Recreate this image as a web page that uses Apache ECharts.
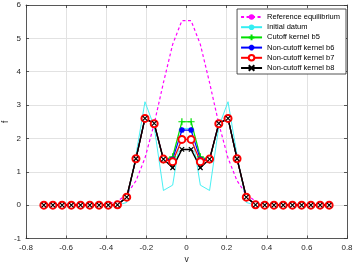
<!DOCTYPE html>
<html>
<head>
<meta charset="utf-8">
<script src="https://cdn.jsdelivr.net/npm/echarts@6/dist/echarts.min.js"></script>
<style>
html,body{margin:0;padding:0;background:#fff;}
#chart{width:354px;height:266px;}
</style>
</head>
<body>
<div id="chart"></div>
<script>
// grid of velocities (32 points)
var vValues = [-0.711,-0.666,-0.620,-0.574,-0.528,-0.482,-0.436,-0.390,-0.344,-0.298,-0.252,-0.207,-0.161,-0.115,-0.069,-0.023,
               0.023,0.069,0.115,0.161,0.207,0.252,0.298,0.344,0.390,0.436,0.482,0.528,0.574,0.620,0.666,0.711];
var refEquilibrium = [0,0,0,0,0,0,0.01,0.04,0.12,0.32,0.73,1.41,2.44,3.67,4.82,5.53,
                      5.53,4.82,3.67,2.44,1.41,0.73,0.32,0.12,0.04,0.01,0,0,0,0,0,0];
var initialDatum = [0,0,0,0,0,0,0,0,0,0.08,1.5,3.1,2.35,0.44,0.6,2.3,
                    2.3,0.6,0.44,2.35,3.1,1.5,0.08,0,0,0,0,0,0,0,0,0];
var cutoffB5 = [0,0,0,0,0,0,0,0,0.01,0.24,1.39,2.6,2.43,1.35,1.45,2.5,
                2.5,1.45,1.35,2.43,2.6,1.39,0.24,0.01,0,0,0,0,0,0,0,0];
var nonCutoffB6 = [0,0,0,0,0,0,0,0,0.01,0.24,1.39,2.6,2.44,1.37,1.37,2.25,
                   2.25,1.37,1.37,2.44,2.6,1.39,0.24,0.01,0,0,0,0,0,0,0,0];
var nonCutoffB7 = [0,0,0,0,0,0,0,0,0.01,0.24,1.39,2.6,2.44,1.38,1.3,1.97,
                   1.97,1.3,1.38,2.44,2.6,1.39,0.24,0.01,0,0,0,0,0,0,0,0];
var nonCutoffB8 = [0,0,0,0,0,0,0,0,0.01,0.24,1.39,2.6,2.45,1.38,1.12,1.67,
                   1.67,1.12,1.38,2.45,2.6,1.39,0.24,0.01,0,0,0,0,0,0,0,0];
var xTicks = [-0.8,-0.6,-0.4,-0.2,0,0.2,0.4,0.6,0.8];
var yTicks = [-1,0,1,2,3,4,5,6];
var seriesNames = ['Reference equilibrium','Initial datum','Cutoff kernel b5','Non-cutoff kernel b6','Non-cutoff kernel b7','Non-cutoff kernel b8'];

function pairs(ys){ return vValues.map(function(v,i){ return [v, ys[i]]; }); }

var FONT = 'Liberation Sans, Arial, sans-serif';
var AX = '#333333';
var GRIDC = '#e2e2e2';
var plus = 'path://M5,0L5,10M0,5L10,5';
var cross = 'path://M0,0L10,10M10,0L0,10';
var star = 'path://M5,0L5,10M0,5L10,5M1.5,1.5L8.5,8.5M8.5,1.5L1.5,8.5';

var chart = echarts.init(document.getElementById('chart'), null, {renderer:'canvas'});
var baseX = {type:'value', min:xTicks[0], max:xTicks[xTicks.length-1], interval:0.2};
var baseY = {type:'value', min:yTicks[0], max:yTicks[yTicks.length-1], interval:1};
chart.setOption({
  animation:false,
  backgroundColor:'#fff',
  grid:{left:26, right:7, top:5, bottom:27.5, containLabel:false, outerBoundsMode:'none'},
  legend:{
    data:seriesNames, orient:'vertical', right:8, top:9,
    itemWidth:21, itemHeight:7, itemGap:2.2,
    padding:[4,6,2,3],
    borderColor:'#262626', borderWidth:0.8, backgroundColor:'#fff',
    textStyle:{fontFamily:FONT, fontSize:7.5, color:'#000', lineHeight:8}
  },
  xAxis:[
    Object.assign({}, baseX, {
      position:'bottom', name:'v', nameLocation:'middle', nameGap:17, nameMoveOverlap:false,
      nameTextStyle:{fontFamily:FONT, fontSize:8.5, color:'#262626'},
      axisLine:{onZero:false, lineStyle:{color:AX, width:0.8}},
      axisTick:{inside:true, length:3, lineStyle:{color:AX, width:0.8}},
      axisLabel:{fontFamily:FONT, fontSize:8, color:'#262626', margin:5,
        formatter:function(v){ return String(Math.round(v*10)/10); }},
      splitLine:{show:true, lineStyle:{color:GRIDC, width:1}}
    }),
    Object.assign({}, baseX, {
      position:'top',
      axisLine:{onZero:false, lineStyle:{color:AX, width:0.8}},
      axisTick:{inside:true, length:3, lineStyle:{color:AX, width:0.8}},
      axisLabel:{show:false}, splitLine:{show:false}
    })
  ],
  yAxis:[
    Object.assign({}, baseY, {
      position:'left', name:'f', nameLocation:'middle', nameGap:16, nameMoveOverlap:false,
      nameTextStyle:{fontFamily:FONT, fontSize:8.5, color:'#262626'},
      axisLine:{show:true, onZero:false, lineStyle:{color:AX, width:0.8}},
      axisTick:{show:true, inside:true, length:3, lineStyle:{color:AX, width:0.8}},
      axisLabel:{fontFamily:FONT, fontSize:8, color:'#262626', margin:5},
      splitLine:{show:true, lineStyle:{color:GRIDC, width:1}}
    }),
    Object.assign({}, baseY, {
      position:'right',
      axisLine:{show:true, onZero:false, lineStyle:{color:AX, width:0.8}},
      axisTick:{show:true, inside:true, length:3, lineStyle:{color:AX, width:0.8}},
      axisLabel:{show:false}, splitLine:{show:false}
    })
  ],
  series:[
    {name:seriesNames[0], type:'line', data:pairs(refEquilibrium), showSymbol:false, symbol:'none',
     lineStyle:{color:'#ff00ff', width:1.2, type:[3,2.5]}, itemStyle:{color:'#ff00ff'}},
    {name:seriesNames[1], type:'line', data:pairs(initialDatum), showSymbol:false, symbol:'none',
     lineStyle:{color:'#33eef2', width:0.9}, itemStyle:{color:'#33eef2'}},
    {name:seriesNames[2], type:'line', data:pairs(cutoffB5), symbol:plus, symbolSize:7,
     lineStyle:{color:'#00e000', width:1.2}, itemStyle:{color:'#00e000', borderColor:'#00e000', borderWidth:1.2}},
    {name:seriesNames[3], type:'line', data:pairs(nonCutoffB6), symbol:star, symbolSize:6,
     lineStyle:{color:'#0000ff', width:1.2}, itemStyle:{color:'#0000ff', borderColor:'#0000ff', borderWidth:1.5}},
    {name:seriesNames[4], type:'line', data:pairs(nonCutoffB7), symbol:'emptyCircle', symbolSize:7,
     lineStyle:{color:'#ff0000', width:1.2}, itemStyle:{color:'#ff0000', borderColor:'#ff0000', borderWidth:1.4}},
    {name:seriesNames[5], type:'line', data:pairs(nonCutoffB8), symbol:cross, symbolSize:4.5,
     lineStyle:{color:'#000000', width:1.4}, itemStyle:{color:'#000000', borderColor:'#000000', borderWidth:1.2}}
  ]
});
</script>
</body>
</html>
